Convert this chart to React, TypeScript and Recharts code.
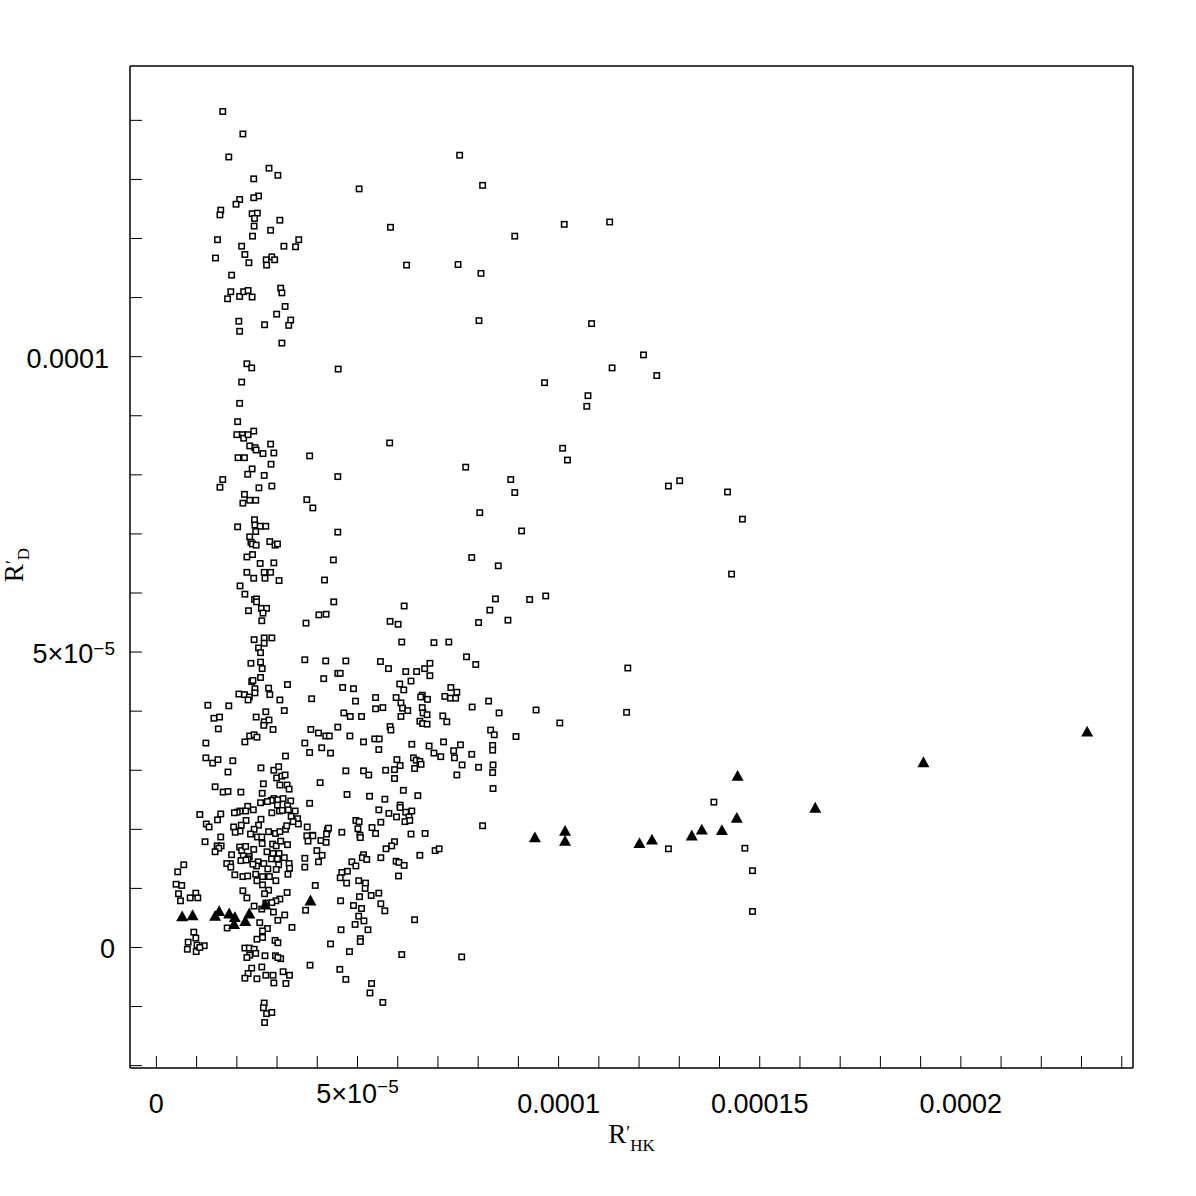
// App.tsx
//
// Scatter of R'_D against R'_HK: open squares for the large sample,
// filled triangles for the highlighted stars. Values are in units of 1e-6.

import React from 'react';
import { ScatterChart, Scatter, XAxis, YAxis, Label } from 'recharts';

// ─── Data (×1e-6) ─────────────────────────────────────────────────────────────

type Pair = [number, number];

const squaresUpper: Pair[] = [
  [16.5, 141.5], [21.5, 137.7], [18.0, 133.8], [28.0, 131.9], [30.2, 130.7], [24.2, 130.1],
  [25.4, 127.2], [24.2, 126.9], [20.7, 126.6], [19.8, 125.8], [16.0, 124.8], [15.8, 124.0],
  [23.8, 124.2], [25.1, 124.3], [24.4, 123.4], [30.7, 123.1], [24.3, 122.1], [28.4, 121.4],
  [23.9, 120.4], [15.2, 119.8], [35.4, 119.8], [21.2, 118.7], [31.7, 118.7], [34.6, 118.6],
  [22.0, 117.3], [14.7, 116.7], [23.0, 115.9], [27.3, 116.4], [28.7, 116.9], [29.4, 116.4],
  [27.4, 115.5], [18.7, 113.8], [18.5, 111.0], [17.7, 109.8], [20.7, 110.2], [21.7, 111.0],
  [22.8, 111.2], [23.8, 110.1], [30.9, 111.6], [31.2, 110.8], [32.0, 108.5], [29.9, 107.2],
  [33.4, 106.2], [32.9, 105.3], [20.5, 106.0], [20.7, 104.3], [26.9, 105.4], [31.2, 102.3],
  [22.5, 98.8],
];

const squaresMiddle: Pair[] = [
  [23.7, 98.1], [45.2, 97.9], [21.2, 95.7], [20.7, 92.1], [20.2, 89.0], [24.2, 87.4],
  [20.0, 86.8], [21.4, 86.8], [21.7, 86.2], [22.8, 86.8], [28.4, 85.2], [23.2, 84.9],
  [24.5, 84.6], [24.8, 84.2], [26.5, 83.6], [29.2, 83.7], [38.1, 83.2], [20.3, 82.9],
  [21.9, 82.9], [28.5, 81.8], [23.8, 81.0], [22.7, 80.1], [26.8, 79.9], [16.5, 79.2],
  [15.8, 77.9], [25.5, 77.8], [28.7, 78.1], [45.1, 79.7], [21.9, 76.7], [21.5, 75.2],
  [23.2, 75.7], [24.7, 75.7], [37.4, 75.8], [38.9, 74.4], [24.4, 72.4], [24.5, 71.5],
  [25.8, 71.3], [27.2, 71.3], [20.2, 71.2], [24.7, 70.4], [45.1, 70.3], [23.2, 69.5],
  [23.5, 68.6], [23.9, 68.3], [24.8, 68.1], [28.2, 68.7], [29.5, 68.1], [30.1, 68.3],
  [22.5, 66.1], [23.9, 66.5], [25.8, 65.0], [29.2, 65.1], [44.0, 65.6], [22.5, 63.5],
  [24.2, 62.5], [26.8, 63.5], [28.4, 63.5], [27.0, 62.5], [30.5, 62.1], [41.8, 62.2],
  [20.8, 61.2], [22.0, 59.8], [24.4, 58.9], [24.9, 59.0], [24.9, 58.5], [26.1, 57.4],
  [27.4, 57.4], [26.5, 56.6], [22.9, 57.0], [26.2, 55.3], [44.1, 58.5], [40.4, 56.3],
  [42.2, 56.4], [37.2, 54.9],
];

const squaresLowLeft: Pair[] = [
  [24.3, 52.1], [26.8, 52.4], [28.7, 52.4], [26.8, 51.5], [25.4, 50.7], [25.9, 49.9],
  [23.5, 48.1], [25.9, 48.3], [26.3, 47.2], [36.9, 48.7], [42.1, 48.5], [45.1, 46.4],
  [25.9, 45.7], [23.7, 45.0], [24.0, 45.2], [24.5, 43.8], [41.6, 45.5], [32.6, 44.5],
  [27.9, 43.9], [20.5, 42.9], [21.9, 42.8], [23.1, 42.4], [24.5, 43.1], [22.8, 41.9],
  [28.2, 42.8], [30.7, 41.9], [38.6, 42.1], [12.8, 41.0], [18.0, 40.9], [27.2, 39.9],
  [31.8, 40.1], [14.3, 38.8], [15.7, 39.0], [24.8, 39.0], [26.8, 38.2], [28.0, 38.5],
  [26.7, 37.6], [15.4, 37.0], [29.0, 36.9], [38.4, 36.9], [40.3, 36.3], [42.1, 35.8],
  [43.0, 35.8], [45.1, 37.3], [23.2, 35.8], [24.3, 36.0], [25.0, 35.6], [22.0, 34.8],
  [12.3, 34.6], [36.9, 34.6], [38.1, 33.0], [41.1, 33.8], [43.3, 32.9], [32.1, 32.4],
  [12.3, 32.1], [14.0, 31.2], [15.3, 31.8], [19.0, 31.6], [26.0, 30.4], [17.8, 29.7],
  [29.2, 30.0], [30.4, 30.6], [29.9, 28.7], [31.2, 29.0], [32.0, 29.2], [26.6, 27.7],
  [30.7, 27.5], [32.5, 27.5], [33.0, 26.8], [40.7, 27.9], [14.6, 27.2], [16.6, 26.3],
  [17.8, 26.4], [21.0, 26.3], [26.3, 26.1], [29.2, 25.2], [28.6, 24.9], [27.6, 24.7],
  [25.9, 24.5], [30.2, 25.0], [31.5, 25.2], [33.4, 24.8], [30.1, 24.1], [32.6, 24.0],
  [38.1, 24.4], [22.7, 23.9], [24.1, 23.3], [22.2, 23.1], [20.8, 23.1], [20.1, 22.9],
  [19.4, 22.8], [28.7, 22.8], [30.6, 23.1], [31.3, 23.2], [32.8, 23.3], [34.5, 23.1],
  [10.8, 22.5], [16.0, 22.6], [15.2, 21.6], [26.0, 21.7], [22.3, 21.5], [33.5, 22.2],
  [35.1, 21.8], [34.0, 21.3], [35.3, 20.9], [12.4, 20.9], [13.1, 20.4], [19.2, 20.4],
  [21.1, 20.7], [20.8, 19.7], [19.6, 19.5], [25.4, 20.7], [24.3, 20.0], [23.4, 19.2],
  [27.9, 19.6], [29.6, 19.3], [30.7, 19.6], [32.1, 20.0], [32.4, 20.6], [37.5, 20.4],
  [42.5, 19.9], [42.8, 20.2], [42.3, 19.2], [38.8, 19.0], [16.0, 18.7], [25.1, 18.7],
  [26.2, 18.7],
];

const squaresBottomLeft: Pair[] = [
  [12.1, 17.9], [15.1, 17.2], [16.1, 17.2], [15.5, 16.8], [14.6, 16.2], [18.7, 15.7],
  [18.4, 14.2], [17.5, 14.2], [18.5, 13.6], [20.7, 17.0], [21.2, 16.4], [22.2, 17.1],
  [24.2, 16.6], [21.6, 15.5], [23.1, 15.4], [22.8, 15.0], [21.0, 14.7], [22.3, 14.8],
  [26.3, 17.6], [28.9, 17.5], [29.8, 17.2], [30.9, 18.0], [32.6, 17.4], [27.5, 16.2],
  [29.0, 15.9], [30.5, 15.9], [31.8, 15.2], [28.6, 15.0], [30.1, 15.0], [25.3, 14.5],
  [24.9, 13.8], [26.7, 14.2], [24.0, 14.1], [30.4, 14.0], [33.0, 14.2], [33.1, 13.4],
  [27.7, 13.3], [29.8, 13.2], [19.5, 12.3], [21.5, 12.0], [22.7, 12.1], [24.7, 12.4],
  [26.4, 12.0], [28.1, 12.0], [32.7, 12.4], [25.0, 11.3], [29.7, 11.3], [26.4, 10.6],
  [37.4, 18.9], [38.9, 18.9], [37.7, 18.0], [40.9, 18.1], [42.2, 17.8], [39.9, 16.4],
  [41.2, 15.6], [40.3, 14.5], [36.9, 15.1], [36.9, 13.6], [39.5, 10.5], [6.8, 14.0],
  [5.3, 12.8], [4.9, 10.7], [6.3, 10.5], [5.5, 9.1], [6.0, 7.9], [8.4, 8.4],
  [9.8, 9.2], [10.3, 8.4], [21.5, 9.6], [22.5, 8.4], [27.9, 9.7], [26.9, 9.1],
  [32.5, 9.3], [30.7, 8.2], [29.7, 7.9], [28.7, 7.6], [27.2, 7.5], [24.3, 7.0],
  [26.2, 6.5], [37.1, 6.3], [29.1, 6.0], [30.2, 4.6], [31.9, 5.5], [25.7, 4.2],
  [27.6, 3.2], [26.4, 2.8], [33.7, 3.4], [17.6, 3.3], [9.3, 2.6], [9.8, 1.6],
  [7.9, 0.9], [7.7, -0.3], [10.1, 0.4], [9.9, -0.7], [11.9, 0.3], [10.8, 0.0],
  [25.0, 1.4], [26.4, 1.7], [29.5, 1.2], [30.2, 0.8], [43.3, 0.6], [22.0, -0.1],
  [23.1, -0.1], [24.3, -0.3], [24.7, -1.0], [23.2, -1.3], [22.5, -1.7], [27.0, -1.4],
  [29.6, -1.4], [30.9, -1.9], [30.2, -1.7], [23.7, -3.5], [26.2, -3.3], [22.8, -4.4],
  [22.0, -5.2], [25.0, -5.3], [27.2, -4.7], [29.0, -4.7], [31.5, -4.1], [33.1, -4.7],
  [29.2, -6.0], [32.2, -6.1], [38.2, -3.0], [26.8, -9.4], [26.6, -10.2], [27.4, -11.2],
  [28.7, -11.0], [26.9, -12.7],
];

const squaresCentre: Pair[] = [
  [58.1, 55.2], [60.1, 54.7], [80.1, 55.0], [61.0, 51.7], [69.0, 51.6], [72.7, 51.7],
  [77.1, 49.2], [79.4, 47.9], [47.1, 48.5], [45.7, 46.4], [55.7, 48.4], [57.7, 47.2],
  [62.0, 46.7], [64.7, 46.7], [66.7, 47.2], [68.0, 48.1], [68.0, 46.0], [63.3, 45.1],
  [60.5, 44.6], [61.5, 43.6], [46.3, 44.0], [49.0, 43.8], [73.2, 44.0], [74.7, 43.2],
  [71.7, 42.5], [73.1, 42.2], [74.4, 42.2], [66.1, 42.7], [65.7, 42.4], [67.4, 42.0],
  [59.6, 42.3], [54.5, 42.3], [49.5, 41.7], [82.6, 41.7], [78.5, 40.7], [85.2, 39.7],
  [60.8, 41.4], [61.2, 40.5], [62.5, 40.1], [66.1, 40.6], [66.3, 39.7], [67.3, 39.4],
  [60.8, 39.1], [54.5, 40.4], [56.3, 40.6], [46.6, 39.7], [48.2, 39.1], [51.0, 39.1],
  [71.2, 39.2], [72.2, 38.2], [65.5, 38.3], [66.2, 37.9], [67.3, 37.8], [58.1, 37.4],
  [58.3, 36.8], [83.1, 36.8], [84.0, 36.0], [48.1, 35.8], [54.3, 35.3], [55.4, 35.3],
  [51.5, 34.8], [55.3, 33.5], [63.5, 34.4], [67.8, 34.1], [71.4, 34.8], [75.6, 34.3],
  [78.4, 32.7], [83.6, 34.2], [83.6, 33.4], [73.9, 33.3], [69.0, 32.9], [70.7, 32.3],
  [74.1, 32.1], [59.8, 31.8], [60.6, 30.8], [63.9, 32.1], [64.6, 31.7], [65.5, 31.5],
  [65.8, 31.0], [64.2, 30.3], [59.2, 30.1], [57.0, 30.0], [59.2, 28.6], [76.0, 30.9],
  [80.1, 30.5], [83.7, 30.9], [83.6, 29.6], [74.7, 29.2], [47.1, 29.9], [51.5, 29.9],
  [52.8, 29.2], [83.7, 26.9], [61.4, 26.6], [65.0, 25.7], [47.4, 25.9], [53.0, 25.6],
  [56.8, 25.1], [60.6, 24.1], [60.6, 23.7], [55.3, 23.3], [57.8, 22.7], [59.7, 22.1],
  [62.0, 22.9], [63.5, 23.1], [62.8, 22.1], [61.8, 21.3], [63.0, 21.5], [49.6, 21.5],
  [50.4, 21.3], [55.8, 21.2], [53.6, 20.3], [50.1, 20.1], [54.5, 19.3], [50.6, 19.0],
  [50.7, 18.6], [46.1, 19.5], [63.3, 19.2], [66.8, 19.3], [81.1, 20.6],
  [59.2, 17.9], [58.5, 17.2], [57.1, 16.7], [55.8, 15.2], [51.5, 15.7], [51.2, 15.2],
  [52.3, 14.9], [59.6, 14.6], [60.3, 14.4], [61.6, 13.9], [65.5, 15.6], [69.3, 16.4],
  [70.3, 16.7], [48.6, 14.5], [49.6, 13.8], [47.5, 12.9], [46.1, 12.7], [45.7, 11.8],
  [47.3, 10.9], [50.3, 11.3], [52.0, 10.9], [51.9, 10.0], [60.2, 12.1], [50.5, 8.6],
  [53.4, 8.8], [55.3, 9.2], [55.8, 7.4], [56.8, 6.2], [45.8, 7.9], [49.0, 7.1],
  [51.0, 6.6], [50.3, 5.3], [51.6, 4.5], [49.4, 3.9], [52.6, 3.0], [45.9, 3.0],
  [50.7, 1.5], [50.7, 1.0], [48.0, -0.7], [64.2, 4.7], [61.0, -1.2], [75.9, -1.6],
  [45.6, -3.7], [47.1, -5.4], [53.5, -6.1], [53.1, -7.7], [56.3, -9.3],
];

const squaresSparse: Pair[] = [
  [75.4, 134.1], [81.1, 129.0], [50.4, 128.4], [58.2, 121.9], [89.1, 120.4], [101.4, 122.4],
  [112.7, 122.8], [62.2, 115.5], [75.0, 115.6], [80.7, 114.1], [80.2, 106.1], [108.2, 105.6],
  [121.1, 100.3], [113.3, 98.1], [124.4, 96.8], [96.5, 95.6], [107.3, 93.4], [107.0, 91.6],
  [58.0, 85.4], [76.9, 81.3], [88.1, 79.2], [89.1, 77.0], [101.0, 84.5], [102.2, 82.5],
  [127.3, 78.1], [130.1, 79.0], [142.0, 77.1], [145.7, 72.5], [80.4, 73.6], [90.8, 70.5],
  [78.4, 66.0], [85.0, 64.6], [143.0, 63.2], [84.3, 59.0], [92.8, 58.9], [96.8, 59.5],
  [82.9, 57.1], [87.4, 55.4], [61.6, 57.8], [117.2, 47.3], [94.4, 40.2], [116.9, 39.8],
  [100.3, 38.0], [89.4, 35.7], [138.6, 24.6], [127.3, 16.7], [146.3, 16.8], [148.2, 13.0],
  [148.2, 6.1],
];

const triangles: Pair[] = [
  [6.4, 5.2], [9.0, 5.4], [14.6, 5.3], [15.6, 6.1], [18.1, 5.7], [19.5, 5.1],
  [19.3, 3.9], [22.1, 4.4], [23.1, 5.7], [27.1, 7.2], [38.3, 7.9], [94.1, 18.6],
  [101.6, 19.7], [101.6, 18.0], [120.1, 17.6], [123.2, 18.2], [133.1, 18.9], [135.6, 19.9],
  [140.6, 19.8], [144.3, 21.9], [144.5, 29.0], [163.8, 23.6], [190.7, 31.3], [231.4, 36.5],
];

// ─── Axes ─────────────────────────────────────────────────────────────────────

const X_DOMAIN: [number, number] = [-6.56, 242.8];
const Y_DOMAIN: [number, number] = [-20.4, 149.2];

const xTicks = [0, 10, 20, 30, 40, 50, 60, 70, 80, 90, 100, 110, 120, 130, 140, 150, 160, 170, 180, 190, 200, 210, 220, 230, 240];
const yTicks = [-20, -10, 0, 10, 20, 30, 40, 50, 60, 70, 80, 90, 100, 110, 120, 130, 140];

type TickText = { base: string; sup?: string; dx?: number };

const xLabelValues = [0, 50, 100, 150, 200];
const xLabelTexts: TickText[] = [
  { base: '0' },
  { base: '5×10', sup: '−5' },
  { base: '0.0001' },
  { base: '0.00015' },
  { base: '0.0002' },
];

const yLabelValues = [0, 50, 100];
const yLabelTexts: TickText[] = [
  { base: '0' },
  { base: '5×10', sup: '−5' },
  { base: '0.0001', dx: -6 },
];

const SANS = '"Liberation Sans", Arial, Helvetica, sans-serif';
const SERIF = '"Liberation Serif", "Times New Roman", serif';
const INK = '#000';

const toPoints = (pairs: Pair[]) => pairs.map(([x, y]) => ({ x, y }));

// ─── Marks ────────────────────────────────────────────────────────────────────

function OpenSquare({ cx, cy }: { cx?: number; cy?: number }) {
  if (cx == null || cy == null) return <g />;
  return (
    <rect x={cx - 2.7} y={cy - 2.7} width={5.4} height={5.4} fill="#fff" stroke={INK} strokeWidth={1.5} />
  );
}

function FilledTriangle({ cx, cy }: { cx?: number; cy?: number }) {
  if (cx == null || cy == null) return <g />;
  return <polygon points={`${cx},${cy - 6.2} ${cx + 6},${cy + 4.6} ${cx - 6},${cy + 4.6}`} fill={INK} />;
}

// ─── Tick labels ──────────────────────────────────────────────────────────────

function XTick({ x, y, payload }: any) {
  const i = xLabelValues.indexOf(payload?.value);
  if (i < 0) return <g />;
  const t = xLabelTexts[i];
  return (
    <text x={x} y={t.sup ? y - 10 : y} textAnchor="middle" fontFamily={SANS} fontSize={27} fill={INK}>
      {t.base}
      {t.sup && (
        <tspan dy={-10.5} fontSize={19}>
          {t.sup}
        </tspan>
      )}
    </text>
  );
}

function YTick({ x, y, payload }: any) {
  const i = yLabelValues.indexOf(payload?.value);
  if (i < 0) return <g />;
  const t = yLabelTexts[i];
  return (
    <text x={x + (t.dx ?? 0)} y={y + 11} textAnchor="end" fontFamily={SANS} fontSize={27} fill={INK}>
      {t.base}
      {t.sup && (
        <tspan dy={-8} fontSize={19}>
          {t.sup}
        </tspan>
      )}
    </text>
  );
}

function XTitle({ viewBox }: any) {
  const cx = viewBox.x + viewBox.width / 2;
  const by = viewBox.y + 75;
  return (
    <text x={cx} y={by} textAnchor="middle" fontFamily={SERIF} fontSize={27} fill={INK}>
      R
      <tspan dy={-4} fontSize={18}>′</tspan>
      <tspan dy={12} fontSize={17}>HK</tspan>
    </text>
  );
}

function YTitle({ viewBox }: any) {
  const bx = viewBox.x + 13;
  const cy = viewBox.y + viewBox.height / 2 - 2;
  return (
    <text
      x={bx}
      y={cy}
      transform={`rotate(-90 ${bx} ${cy})`}
      textAnchor="middle"
      fontFamily={SERIF}
      fontSize={27}
      fill={INK}
    >
      R
      <tspan dy={-4} fontSize={18}>′</tspan>
      <tspan dy={10} fontSize={17}>D</tspan>
    </text>
  );
}

// ─── Chart ────────────────────────────────────────────────────────────────────

const frame = { stroke: INK, strokeWidth: 1.5 };
const tickStroke = { stroke: INK, strokeWidth: 1 };

export default function App() {
  const squares = toPoints([
    ...squaresUpper,
    ...squaresMiddle,
    ...squaresLowLeft,
    ...squaresBottomLeft,
    ...squaresCentre,
    ...squaresSparse,
  ]);
  const filled = toPoints(triangles);

  return (
    <div style={{ position: 'absolute', left: 0, top: 0, width: 1196, height: 1196, background: '#fff' }}>
      <ScatterChart width={1196} height={1196} margin={{ top: 66, right: 63, bottom: 28, left: 10 }}>
        <XAxis
          type="number"
          dataKey="x"
          domain={X_DOMAIN}
          allowDataOverflow
          ticks={xTicks}
          interval={0}
          height={100}
          tickSize={-12}
          tickMargin={57}
          axisLine={frame}
          tickLine={tickStroke}
          tick={(p: any) => <XTick {...p} />}
        >
          <Label content={(p: any) => <XTitle {...p} />} />
        </XAxis>
        <XAxis
          xAxisId="top"
          orientation="top"
          type="number"
          domain={X_DOMAIN}
          allowDataOverflow
          ticks={xTicks}
          interval={0}
          mirror
          height={1}
          tickSize={12}
          axisLine={frame}
          tickLine={tickStroke}
          tick={false}
        />
        <YAxis
          type="number"
          dataKey="y"
          domain={Y_DOMAIN}
          allowDataOverflow
          ticks={yTicks}
          interval={0}
          width={120}
          tickSize={-12}
          tickMargin={27}
          axisLine={frame}
          tickLine={tickStroke}
          tick={(p: any) => <YTick {...p} />}
        >
          <Label content={(p: any) => <YTitle {...p} />} />
        </YAxis>
        <YAxis
          yAxisId="right"
          orientation="right"
          type="number"
          domain={Y_DOMAIN}
          allowDataOverflow
          ticks={yTicks}
          interval={0}
          mirror
          width={1}
          tickSize={12}
          axisLine={frame}
          tickLine={tickStroke}
          tick={false}
        />
        <Scatter
          data={squares}
          isAnimationActive={false}
          shape={(p: any) => <OpenSquare cx={p.cx} cy={p.cy} />}
        />
        <Scatter
          data={filled}
          isAnimationActive={false}
          shape={(p: any) => <FilledTriangle cx={p.cx} cy={p.cy} />}
        />
      </ScatterChart>
    </div>
  );
}
